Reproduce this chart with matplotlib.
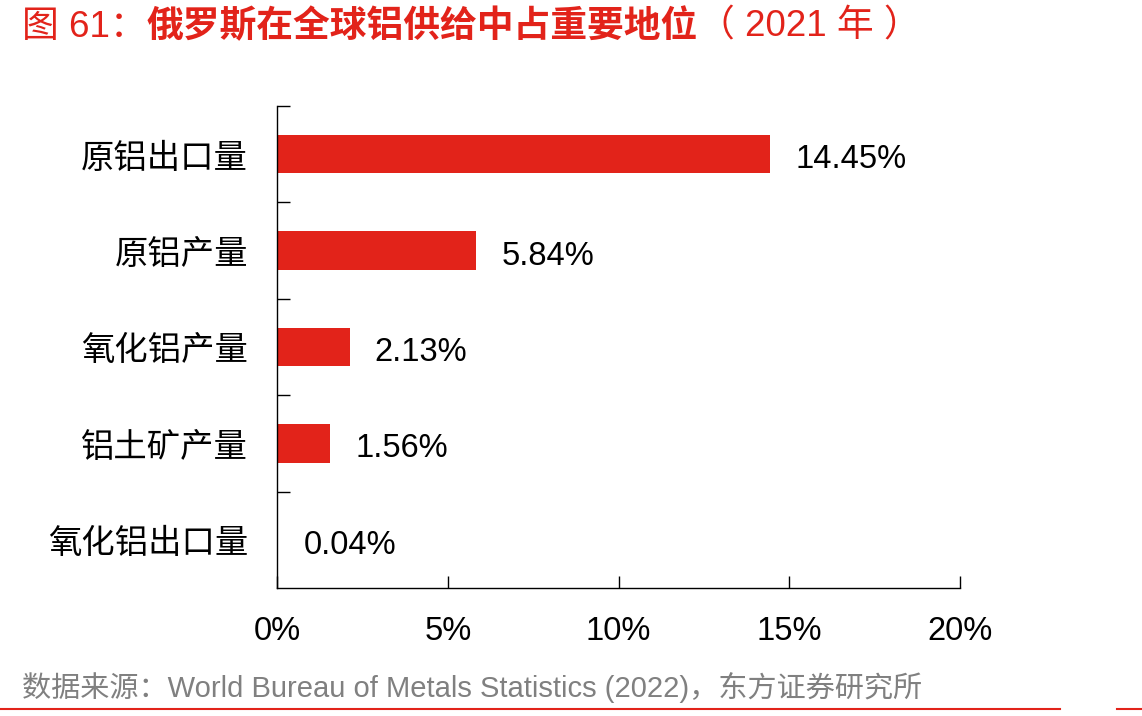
import matplotlib
matplotlib.use('Agg')
import matplotlib.pyplot as plt
from matplotlib.ticker import FuncFormatter

categories = ['原铝出口量', '原铝产量', '氧化铝产量', '铝土矿产量', '氧化铝出口量']
shares = [14.45, 5.84, 2.13, 1.56, 0.04]
xticks = [0, 5, 10, 15, 20]

red = '#e2231a'
latin_cjk = ['Liberation Sans', 'Noto Sans CJK SC']
cjk = ['Noto Sans CJK SC', 'Liberation Sans']

fig = plt.figure(figsize=(11.42, 7.16), dpi=100)
ax = fig.add_axes([0.2426, 0.1788, 0.598, 0.6732])

ypos = list(range(len(categories)))
ax.barh(ypos, shares, height=0.4, color=red)
ax.set_ylim(len(categories) - 0.5, -0.5)
ax.set_xlim(0, 20)

for y, v in zip(ypos, shares):
    ax.annotate('{:.2f}%'.format(v), (v, y), xytext=(18, -4), textcoords='offset points',
                va='center', ha='left', fontsize=23.5, family=latin_cjk)

ax.set_xticks(xticks)
ax.xaxis.set_major_formatter(FuncFormatter(lambda x, pos: '{:d}%'.format(int(x))))
ax.tick_params(axis='x', direction='in', length=9, width=1, pad=20, labelsize=23.5)
for lab in ax.get_xticklabels():
    lab.set_family(latin_cjk)

# category boundary ticks on y axis
ax.set_yticks([i - 0.5 for i in ypos])
ax.set_yticklabels([])
ax.tick_params(axis='y', which='major', direction='in', length=9, width=1)
ax.set_yticks(ypos, minor=True)
ax.set_yticklabels(categories, minor=True, fontsize=24, family=cjk)
ax.tick_params(axis='y', which='minor', length=0, pad=21)

for s in ['top', 'right']:
    ax.spines[s].set_visible(False)
for s in ['left', 'bottom']:
    ax.spines[s].set_linewidth(1)

# title in three pieces: only the Chinese part is bold
renderer = fig.canvas.get_renderer()
x = 0.019
for part, weight in [('图 61：', 'normal'), ('俄罗斯在全球铝供给中占重要地位', 'bold'), ('（ 2021 年 ）', 'normal')]:
    t = fig.text(x, 0.962, part, color=red, fontsize=26.5, fontweight=weight,
                 va='center', ha='left', family=latin_cjk)
    bb = t.get_window_extent(renderer=renderer)
    x = bb.x1 / fig.bbox.width

fig.text(0.019, 0.040, '数据来源：World Bureau of Metals Statistics (2022)，东方证券研究所',
         color='#808080', fontsize=21, va='center', ha='left', family=latin_cjk)

fig.add_artist(plt.Line2D([0, 0.928], [0.0095, 0.0095], color=red, lw=1.5, transform=fig.transFigure))
fig.add_artist(plt.Line2D([0.978, 1.0], [0.0095, 0.0095], color=red, lw=1.5, transform=fig.transFigure))

fig.savefig('out.png', dpi=100)
